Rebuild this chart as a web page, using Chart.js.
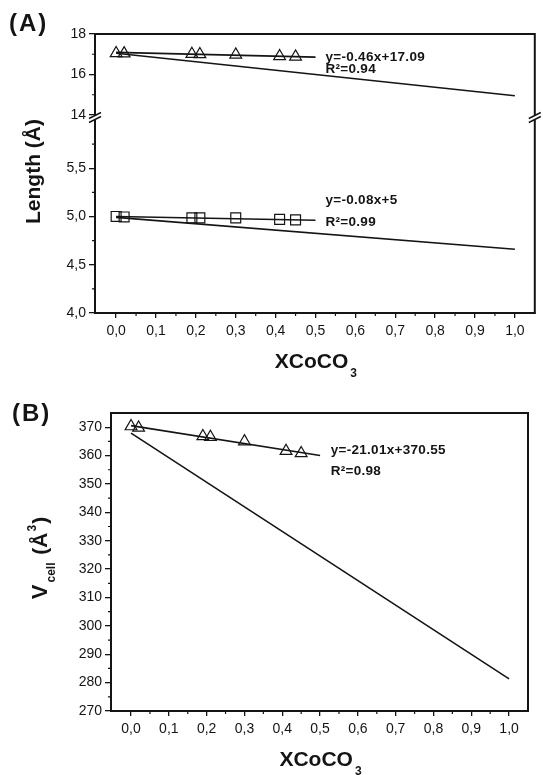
<!DOCTYPE html>
<html>
<head>
<meta charset="utf-8">
<script src="https://cdn.jsdelivr.net/npm/chart.js@4.4.0/dist/chart.umd.min.js"></script>
<style>
  html, body { margin: 0; padding: 0; background: #fff; }
  body { width: 543px; height: 775px; position: relative; overflow: hidden; }
  canvas { position: absolute; left: 0; }
  #chartA { top: 0; }
  #chartB { top: 385px; }
</style>
</head>
<body>
<canvas id="chartA" width="543" height="385"></canvas>
<canvas id="chartB" width="543" height="390"></canvas>
<script>
// Co fraction of the measured samples
const xCo = [0.00, 0.02, 0.19, 0.21, 0.30, 0.41, 0.45];
// lattice parameter c (Å)
const cLength = [17.05, 17.04, 17.01, 17.00, 16.98, 16.90, 16.88];
// lattice parameter a (Å)
const aLength = [5.000, 4.995, 4.985, 4.985, 4.985, 4.970, 4.965];
// cell volume (Å³)
const vCell = [370.3, 369.8, 366.8, 366.5, 365.0, 361.6, 360.8];

// linear fits over the measured range
const fitX = [0, 0.5];
const cFit = [17.09, 16.86];
const aFit = [5.00, 4.96];
const vFit = [370.55, 360.05];

// straight lines between the end members
const endX = [0, 1];
const cEnd = [17.05, 14.95];
const aEnd = [4.99, 4.66];
const vEnd = [367.9, 281.3];

// tick labels
const xTicks = [0, 0.1, 0.2, 0.3, 0.4, 0.5, 0.6, 0.7, 0.8, 0.9, 1.0];
const cTicks = [14, 16, 18];
const aTicks = [4.0, 4.5, 5.0, 5.5];
const vTicks = [270, 280, 290, 300, 310, 320, 330, 340, 350, 360, 370];

// fit equations
const cNote = ['y=-0.46x+17.09', 'R²=0.94'];
const aNote = ['y=-0.08x+5', 'R²=0.99'];
const vNote = ['y=-21.01x+370.55', 'R²=0.98'];

const ink = '#141414';
const ff = '"Liberation Sans", Arial, sans-serif';
const bold = size => `bold ${size}px ${ff}`;

Chart.defaults.font.family = ff;
Chart.defaults.font.size = 14;
Chart.defaults.color = ink;

function pts(xs, ys) {
    return xs.map((x, i) => ({x: x, y: ys[i]}));
}

function markers(ys, axis, style, r) {
    return {
        data: pts(xCo, ys),
        yAxisID: axis,
        showLine: false,
        pointStyle: style,
        pointRadius: r,
        borderColor: ink,
        backgroundColor: 'rgba(0,0,0,0)',
        pointBorderWidth: 1.2
    };
}

function line(xs, ys, axis) {
    return {
        data: pts(xs, ys),
        yAxisID: axis,
        showLine: true,
        pointRadius: 0,
        borderColor: ink,
        borderWidth: 1.6,
        fill: false
    };
}

const comma = digits => v => v.toFixed(digits).replace('.', ',');

function xScale(height) {
    return {
        type: 'linear',
        min: -0.053,
        max: 1.05,
        afterBuildTicks: s => { s.ticks = xTicks.map(value => ({value})); },
        afterFit: s => { s.height = height; },
        ticks: {callback: comma(1), padding: 5, maxRotation: 0, autoSkip: false},
        grid: {display: true, drawOnChartArea: false, drawTicks: true, tickLength: 5, color: ink, lineWidth: 1.3},
        border: {display: true, color: ink, width: 2}
    };
}

function yScale(min, max, ticks, fmt, width, more) {
    return Object.assign({
        type: 'linear',
        position: 'left',
        min: min,
        max: max,
        afterBuildTicks: s => { s.ticks = ticks.map(value => ({value})); },
        afterFit: s => { s.width = width; },
        ticks: {callback: fmt, padding: 3, autoSkip: false},
        grid: {display: true, drawOnChartArea: false, drawTicks: true, tickLength: 6, color: ink, lineWidth: 1.3},
        border: {display: true, color: ink, width: 2}
    }, more || {});
}

// text made of pieces with their own font and baseline shift
function drawRich(ctx, parts, x, y, rotated) {
    ctx.save();
    ctx.translate(x, y);
    if (rotated) ctx.rotate(-Math.PI / 2);
    let total = 0;
    parts.forEach(p => {
        ctx.font = p.font;
        total += (p.dx || 0) + ctx.measureText(p.text).width;
    });
    let cx = -total / 2;
    ctx.textAlign = 'left';
    ctx.textBaseline = 'alphabetic';
    parts.forEach(p => {
        ctx.font = p.font;
        cx += p.dx || 0;
        ctx.fillText(p.text, cx, p.dy || 0);
        cx += ctx.measureText(p.text).width;
    });
    ctx.restore();
}

// frame, minor ticks, axis breaks, fit notes and titles
const deco = {
    id: 'deco',
    afterDraw(chart, args, o) {
        const ctx = chart.ctx;
        const a = chart.chartArea;
        ctx.save();
        ctx.strokeStyle = ink;
        ctx.fillStyle = ink;

        ctx.lineWidth = 2;
        ctx.beginPath();
        ctx.moveTo(a.left - 1, a.top);
        ctx.lineTo(a.right, a.top);
        ctx.lineTo(a.right, a.bottom + 1);
        ctx.stroke();

        ctx.lineWidth = 1.2;
        Object.values(chart.scales).forEach(s => {
            const vals = s.ticks.map(t => t.value);
            const step = vals[1] - vals[0];
            ctx.beginPath();
            for (let v = vals[0] - step / 2; v < s.max; v += step) {
                if (v <= s.min) continue;
                const p = s.getPixelForValue(v);
                if (s.isHorizontal()) {
                    if (p - a.left < 4 || a.right - p < 4) continue;
                    ctx.moveTo(p, a.bottom);
                    ctx.lineTo(p, a.bottom + 3);
                } else {
                    if (p - s.top < 3 || s.bottom - p < 3) continue;
                    ctx.moveTo(a.left, p);
                    ctx.lineTo(a.left - 3, p);
                }
            }
            ctx.stroke();
        });

        if (o.breakAt) {
            const y = chart.scales[o.breakAt].bottom;
            [a.left, a.right].forEach(x => {
                ctx.fillStyle = '#fff';
                ctx.fillRect(x - 3, y - 1.5, 6, 4);
                ctx.beginPath();
                ctx.moveTo(x - 6, y + 1.5); ctx.lineTo(x + 6, y - 4.5);
                ctx.moveTo(x - 6, y + 5.5); ctx.lineTo(x + 6, y - 0.5);
                ctx.lineWidth = 1.4;
                ctx.stroke();
            });
            ctx.fillStyle = ink;
        }

        ctx.font = bold(13.5);
        ctx.textAlign = 'left';
        ctx.textBaseline = 'middle';
        ctx.letterSpacing = '0.3px';
        o.notes.forEach(n => {
            ctx.fillText(n.text, chart.scales.x.getPixelForValue(n.x), chart.scales[n.axis].getPixelForValue(n.y));
        });

        ctx.font = bold(24);
        ctx.letterSpacing = '2px';
        ctx.fillText(o.panel.text, o.panel.x, o.panel.y);
        ctx.letterSpacing = '0px';

        drawRich(ctx, o.xTitle, (a.left + a.right) / 2 + 1, a.bottom + 55, false);
        drawRich(ctx, o.yTitle.parts, o.yTitle.x, (a.top + a.bottom) / 2 + o.yTitle.dy, true);
        ctx.restore();
    }
};

const xTitle = [
    {text: 'XCoCO', font: bold(21)},
    {text: '3', font: bold(12), dy: 9, dx: 2}
];

const common = {
    responsive: false,
    maintainAspectRatio: false,
    animation: false,
    events: []
};

new Chart(document.getElementById('chartA'), {
    type: 'scatter',
    data: {
        datasets: [
            line(fitX, cFit, 'yTop'),
            line(endX, cEnd, 'yTop'),
            markers(cLength, 'yTop', 'triangle', 6.8),
            line(fitX, aFit, 'yBot'),
            line(endX, aEnd, 'yBot'),
            markers(aLength, 'yBot', 'rect', 7)
        ]
    },
    options: Object.assign({}, common, {
        layout: {padding: {top: 34, right: 5, left: 0, bottom: 0}},
        scales: {
            x: xScale(72),
            yBot: yScale(4, 6.03, aTicks, comma(1), 95, {stack: 'len', stackWeight: 196, weight: 0}),
            yTop: yScale(13.9, 18, cTicks, v => String(v), 95, {stack: 'len', stackWeight: 83, weight: 1})
        },
        plugins: {
            legend: {display: false},
            tooltip: {enabled: false},
            deco: {
                breakAt: 'yTop',
                notes: [
                    {text: cNote[0], x: 0.525, y: 16.86, axis: 'yTop'},
                    {text: cNote[1], x: 0.525, y: 16.25, axis: 'yTop'},
                    {text: aNote[0], x: 0.525, y: 5.17, axis: 'yBot'},
                    {text: aNote[1], x: 0.525, y: 4.944, axis: 'yBot'}
                ],
                panel: {text: '(A)', x: 9, y: 24},
                xTitle: xTitle,
                yTitle: {parts: [{text: 'Length (Å)', font: bold(21)}], x: 40, dy: -2}
            }
        }
    }),
    plugins: [deco]
});

new Chart(document.getElementById('chartB'), {
    type: 'scatter',
    data: {
        datasets: [
            line(fitX, vFit, 'y'),
            line(endX, vEnd, 'y'),
            markers(vCell, 'y', 'triangle', 6.8)
        ]
    },
    options: Object.assign({}, common, {
        layout: {padding: {top: 28, right: 15, left: 0, bottom: 0}},
        scales: {
            x: xScale(64),
            y: yScale(270, 375, vTicks, v => String(v), 111)
        },
        plugins: {
            legend: {display: false},
            tooltip: {enabled: false},
            deco: {
                breakAt: null,
                notes: [
                    {text: vNote[0], x: 0.528, y: 361.9, axis: 'y'},
                    {text: vNote[1], x: 0.528, y: 354.3, axis: 'y'}
                ],
                panel: {text: '(B)', x: 12, y: 29},
                xTitle: xTitle,
                yTitle: {
                    parts: [
                        {text: 'V', font: bold(22)},
                        {text: 'cell', font: bold(12), dy: 8, dx: 2},
                        {text: ' (Å', font: bold(21), dx: 2},
                        {text: '3', font: bold(12), dy: -11, dx: 1},
                        {text: ')', font: bold(21), dx: 1}
                    ],
                    x: 47,
                    dy: -4
                }
            }
        }
    }),
    plugins: [deco]
});
</script>
</body>
</html>
